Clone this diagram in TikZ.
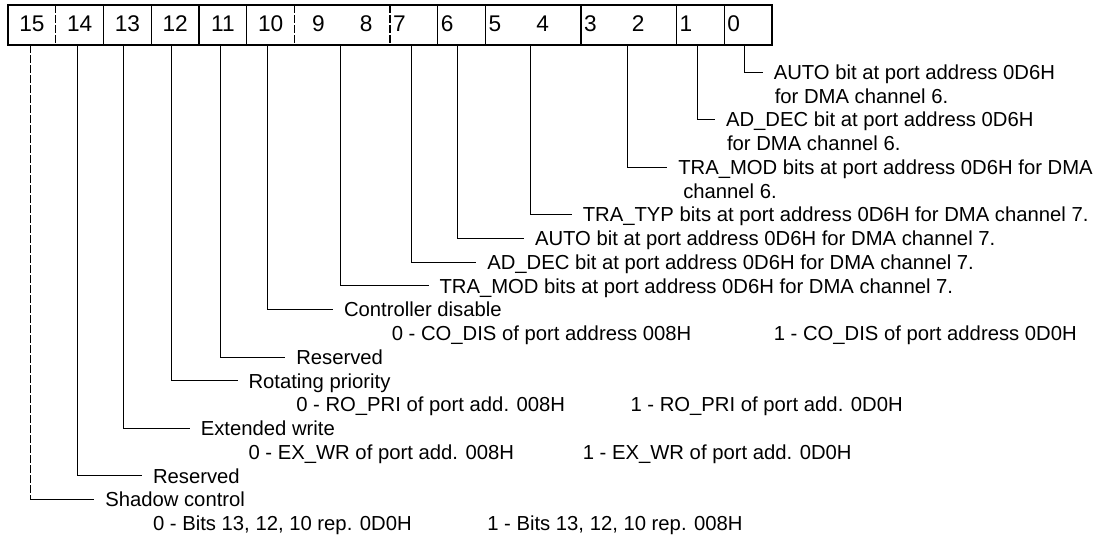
\documentclass[tikz,border=0pt]{standalone}
\usepackage{fontspec}
\setmainfont{Liberation Sans}
\usetikzlibrary{positioning}

\tikzset{
  conn/.style={line width=0.7pt, shorten >=8pt},
  brk/.style={dash pattern=on 6pt off 1.5pt},
  lbl/.style={anchor=west, inner sep=0pt, text height=10.9pt, text depth=0pt,
    font=\fontsize{15.2}{18}\selectfont},
  bitnum/.style={inner sep=0pt, font=\fontsize{17}{20}\selectfont}
}

\begin{document}
\begin{tikzpicture}[x=0.75pt, y=-0.75pt]
\useasboundingbox[fill=white] (0,0) rectangle (1115,535);

% Draw register box
\draw[line width=1.1pt] (8,5) rectangle (772,45);
\foreach \k in {2,3,4,5,9,10,12,14,15}
  \draw[line width=1.1pt] ({8+47.75*\k},5) -- ({8+47.75*\k},45);
\foreach \k in {1,6,8}
  \draw[line width=0.8pt, brk] ({8+47.75*\k},5) -- ({8+47.75*\k},45);

% Bit numbers
\foreach \b [evaluate=\b as \xb using {31.9+47.75*(15-\b)-14.5*((15-\b)>7)}] in {15,...,0}
  \node[bitnum] (d\b) at (\xb,24) {\b};

% Connector start points under the box
\foreach \b/\x in {15/30, 14/77, 13/123, 12/171, 11/220, 10/267, 98/340,
                   7/411, 6/457, 54/530, 32/627, 1/697, 0/744}
  \coordinate (c\b) at (\x,45);

% Labels, bits 0 to 9
\node[lbl] (auto6) at (773.5,72) {AUTO bit at port address 0D6H};
\node[lbl] (auto6b) at (774.5,95.75) {for DMA channel 6.};
\node[lbl] (addec6) at (725.75,119.5) {AD\_DEC bit at port address 0D6H};
\node[lbl] (addec6b) at (726.75,143.25) {for DMA channel 6.};
\node[lbl] (tramod6) at (678,167) {TRA\_MOD bits at port address 0D6H for DMA};
\node[lbl] (tramod6b) at (683,190.75) {channel 6.};
\node[lbl] (tratyp7) at (582.5,214.5) {TRA\_TYP bits at port address 0D6H for DMA channel 7.};
\node[lbl] (auto7) at (534.75,238.25) {AUTO bit at port address 0D6H for DMA channel 7.};
\node[lbl] (addec7) at (487,262) {AD\_DEC bit at port address 0D6H for DMA channel 7.};
\node[lbl] (tramod7) at (439.25,285.75) {TRA\_MOD bits at port address 0D6H for DMA channel 7.};

% Labels, bits 10 to 15
\node[lbl] (codis) at (343.75,309.5) {Controller disable};
\node[lbl] (codis0) at (391.5,333.25) {0 - CO\_DIS of port address 008H};
\node[lbl] (codis1) at (773.5,333.25) {1 - CO\_DIS of port address 0D0H};
\node[lbl] (res11) at (296,357) {Reserved};
\node[lbl] (ropri) at (248.25,380.75) {Rotating priority};
\node[lbl] (ropri0) at (296,404.5) {0 - RO\_PRI of port add. 008H};
\node[lbl] (ropri1) at (630.25,404.5) {1 - RO\_PRI of port add. 0D0H};
\node[lbl] (exwr) at (200.5,428.25) {Extended write};
\node[lbl] (exwr0) at (248.25,452) {0 - EX\_WR of port add. 008H};
\node[lbl] (exwr1) at (582.5,452) {1 - EX\_WR of port add. 0D0H};
\node[lbl] (res14) at (152.75,475.75) {Reserved};
\node[lbl] (shadow) at (105,499.5) {Shadow control};
\node[lbl] (shadow0) at (152.75,523.25) {0 - Bits 13, 12, 10 rep. 0D0H};
\node[lbl] (shadow1) at (487,523.25) {1 - Bits 13, 12, 10 rep. 008H};

% Draw connectors
\draw[conn] (c0) |- (auto6.west);
\draw[conn] (c1) |- (addec6.west);
\draw[conn] (c32) |- (tramod6.west);
\draw[conn] (c54) |- (tratyp7.west);
\draw[conn] (c6) |- (auto7.west);
\draw[conn] (c7) |- (addec7.west);
\draw[conn] (c98) |- (tramod7.west);
\draw[conn] (c10) |- (codis.west);
\draw[conn] (c11) |- (res11.west);
\draw[conn] (c12) |- (ropri.west);
\draw[conn] (c13) |- (exwr.west);
\draw[conn] (c14) |- (res14.west);
\draw[line width=0.7pt, brk] (c15) -- (c15 |- shadow.west);
\draw[conn] (c15 |- shadow.west) -- (shadow.west);
\end{tikzpicture}
\end{document}
